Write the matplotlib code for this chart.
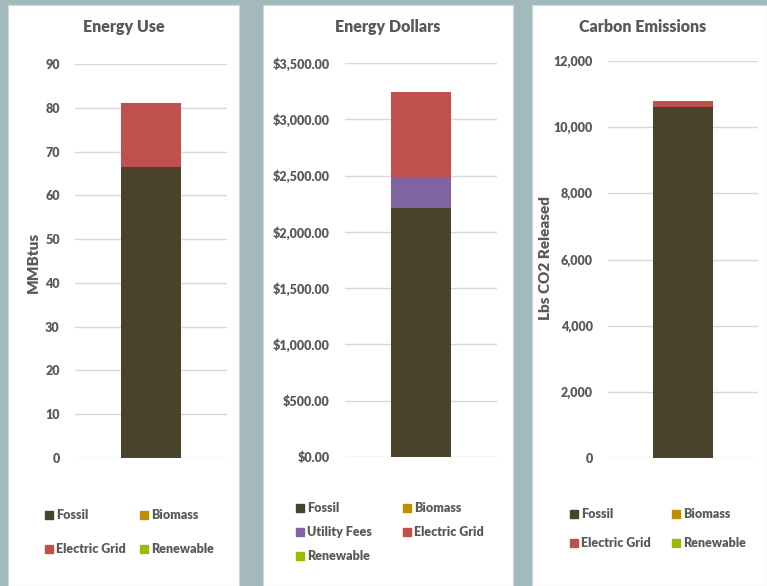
import matplotlib.pyplot as plt
from matplotlib.patches import Rectangle
from matplotlib.ticker import FuncFormatter

# data
use_series = ["Fossil", "Biomass", "Electric Grid", "Renewable"]
use_values = [66.5, 0, 14.7, 0]

dollar_series = ["Fossil", "Biomass", "Utility Fees", "Electric Grid", "Renewable"]
dollar_values = [2212, 0, 275, 755, 0]

carbon_series = ["Fossil", "Biomass", "Electric Grid", "Renewable"]
carbon_values = [10610, 0, 180, 0]

colors = {
    "Fossil": "#4a432b",
    "Biomass": "#bf8f00",
    "Utility Fees": "#8064a2",
    "Electric Grid": "#c0504d",
    "Renewable": "#9bbb00",
}

W, H = 767, 586
BG = "#a2babb"
TXT = "#595959"
plt.rcParams['font.family'] = ['Lato', 'DejaVu Sans']
plt.rcParams['font.weight'] = 'heavy'

fig = plt.figure(figsize=(W / 100, H / 100), dpi=100)
fig.patch.set_facecolor(BG)


def px(x, y, w, h):
    # pixel box (top-left origin) -> figure fraction
    return [x / W, 1 - (y + h) / H, w / W, h / H]


# white panels (behind the axes)
for x0, x1 in [(8, 239), (263, 513), (532, 767)]:
    fig.patches.append(Rectangle((x0 / W, 0), (x1 - x0) / W, 1 - 5 / H,
                                 transform=fig.transFigure, facecolor="white",
                                 edgecolor="#d0d8d8", lw=0.8, zorder=-5))


def stacked(ax, names, vals, ymax, step, fmt):
    bottom = 0
    for n, v in zip(names, vals):
        ax.bar(0, v, width=0.4, bottom=bottom, color=colors[n], label=n, zorder=3)
        bottom += v
    ax.set_xlim(-0.5, 0.5)
    ax.set_ylim(0, ymax)
    ax.set_yticks(range(0, ymax + 1, step))
    ax.yaxis.set_major_formatter(FuncFormatter(fmt))
    ax.set_xticks([])
    ax.grid(axis="y", color="#d9d9d9", lw=1, zorder=0)
    for s in ax.spines.values():
        s.set_visible(False)
    ax.tick_params(axis="y", length=0, pad=11, labelsize=9, labelcolor=TXT)
    for lab in ax.get_yticklabels():
        lab.set_fontweight("heavy")
    ax.set_facecolor("none")


ax1 = fig.add_axes(px(75, 64, 152, 394))
stacked(ax1, use_series, use_values, 90, 10, lambda v, p: f"{v:.0f}")
ax2 = fig.add_axes(px(345, 63, 152, 394))
stacked(ax2, dollar_series, dollar_values, 3500, 500, lambda v, p: f"${v:,.2f}")
ax3 = fig.add_axes(px(608, 61, 150, 397))
stacked(ax3, carbon_series, carbon_values, 12000, 2000, lambda v, p: f"{v:,.0f}")

# titles
for xc, t in [(124, "Energy Use"), (388, "Energy Dollars"), (643, "Carbon Emissions")]:
    fig.text(xc / W, 1 - 27 / H, t, ha="center", va="center", fontsize=11.5,
             color=TXT, fontweight="heavy")

fig.text(33 / W, 1 - 262 / H, "MMBtus", rotation=90, ha="center", va="center",
         fontsize=11, color=TXT, fontweight="heavy")
fig.text(546 / W, 1 - 258 / H, "Lbs CO2 Released", rotation=90, ha="center",
         va="center", fontsize=11, color=TXT, fontweight="heavy")


# legends drawn as marker + label
def legend(items, x0, y0, dx, dy):
    for i, n in enumerate(items):
        col, row = i % 2, i // 2
        x = x0 + col * dx
        y = y0 + row * dy
        fig.patches.append(Rectangle(((x - 4) / W, 1 - (y + 4) / H), 8 / W, 8 / H,
                                     transform=fig.transFigure, color=colors[n], zorder=2))
        fig.text((x + 7) / W, 1 - y / H, n, ha="left", va="center", fontsize=9,
                 color=TXT, fontweight="heavy")


legend(use_series, 49, 515, 95, 34)
legend(dollar_series, 300, 508, 107, 24)
legend(carbon_series, 574, 514, 102, 29)

fig.savefig("out.png", dpi=100, facecolor=BG)
